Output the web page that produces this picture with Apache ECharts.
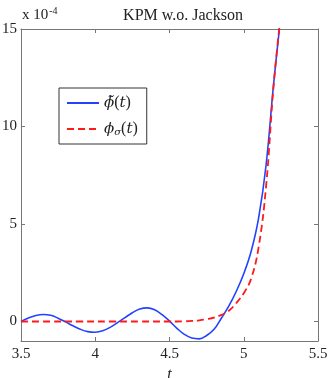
<!DOCTYPE html>
<html>
<head>
<meta charset="utf-8">
<script src="https://cdn.jsdelivr.net/npm/echarts@6/dist/echarts.min.js"></script>
<style>
  html, body { margin: 0; padding: 0; background: #fff; }
  #chart { width: 332px; height: 378px; }
</style>
</head>
<body>
<div id="chart"></div>
<script>
// values are in units of 1e-4
const tBlue = [3.5, 3.55, 3.6, 3.65, 3.7, 3.75, 3.8, 3.85, 3.9, 3.95, 4.0, 4.05, 4.1, 4.15, 4.2, 4.25, 4.3, 4.35, 4.4, 4.45, 4.5, 4.55, 4.6, 4.65, 4.7, 4.75, 4.8, 4.85, 4.9, 4.95, 5.0, 5.05, 5.1, 5.15, 5.2, 5.24];
const phiTilde = [0.0, 0.18, 0.31, 0.36, 0.32, 0.17, -0.02, -0.22, -0.4, -0.52, -0.55, -0.48, -0.3, -0.06, 0.2, 0.45, 0.64, 0.7, 0.6, 0.35, 0.02, -0.35, -0.66, -0.85, -0.89, -0.72, -0.4, 0.18, 0.8, 1.55, 2.45, 3.6, 5.3, 8.0, 12.1, 15.0];
const tRed = [3.5, 3.7, 3.9, 4.1, 4.3, 4.5, 4.55, 4.6, 4.65, 4.7, 4.75, 4.8, 4.85, 4.9, 4.95, 5.0, 5.05, 5.1, 5.15, 5.2, 5.24];
const phiSigma = [0, 0, 0, 0, 0, 0, 0.0, 0.01, 0.03, 0.06, 0.12, 0.2, 0.34, 0.55, 0.95, 1.45, 2.2, 3.8, 6.9, 12.0, 15.1];
const xTicks = [3.5, 4, 4.5, 5, 5.5];
const yTicks = [0, 5, 10, 15];

const zip = (a, b) => a.map((v, i) => [v, b[i]]);
const serif = "'Liberation Serif', 'DejaVu Serif', serif";
const mathFont = "'DejaVu Serif', serif";
const boxColor = '#777';

const chart = echarts.init(document.getElementById('chart'));

const tickStyle = vals => ({ show: true, inside: true, length: 4, customValues: vals, lineStyle: { color: boxColor } });
const lineStyleBox = { show: true, onZero: false, lineStyle: { color: boxColor, width: 1 } };

chart.setOption({
  animation: false,
  backgroundColor: '#fff',
  title: {
    text: 'KPM w.o. Jackson',
    left: 178,
    textAlign: 'center',
    top: 3,
    textStyle: { fontFamily: serif, fontWeight: 'normal', fontSize: 16, color: '#222' }
  },
  grid: { left: 21, right: 14, top: 29, bottom: 37, containLabel: false, outerBoundsMode: 'none' },
  legend: {
    left: 59,
    top: 88,
    orient: 'vertical',
    itemWidth: 32,
    itemHeight: 10,
    itemGap: 10,
    padding: [7, 9, 7, 7],
    borderColor: '#333',
    borderWidth: 1,
    backgroundColor: '#fff',
    itemStyle: { opacity: 0 },
    data: ['tilde', 'sigma'],
    formatter: name => name === 'tilde' ? '{i|ϕ̃}{n|(}{i|t}{n|)}' : '{i|ϕ}{s|σ}{n|(}{i|t}{n|)}',
    textStyle: {
      fontFamily: serif,
      fontSize: 15,
      color: '#222',
      rich: {
        i: { fontFamily: mathFont, fontStyle: 'italic', fontSize: 15, color: '#222' },
        n: { fontFamily: serif, fontSize: 16, color: '#222' },
        s: { fontFamily: mathFont, fontStyle: 'italic', fontSize: 10, color: '#222', verticalAlign: 'bottom', padding: [6, 0, 0, 0] }
      }
    }
  },
  xAxis: [
    {
      type: 'value',
      min: 3.5, max: 5.5, interval: 0.5,
      position: 'bottom',
      splitLine: { show: false },
      axisLine: lineStyleBox,
      name: 't',
      nameLocation: 'middle',
      nameGap: 25,
      nameTextStyle: { fontFamily: serif, fontStyle: 'italic', fontSize: 16, color: '#222' },
      axisLabel: {
        customValues: xTicks,
        fontFamily: serif, fontSize: 15, color: '#222', margin: 6,
        formatter: v => String(v)
      },
      axisTick: tickStyle(xTicks)
    },
    {
      type: 'value',
      min: 3.5, max: 5.5, interval: 0.5,
      position: 'top',
      splitLine: { show: false },
      axisLine: lineStyleBox,
      axisLabel: { show: false },
      axisTick: tickStyle(xTicks)
    }
  ],
  yAxis: [
    {
      type: 'value',
      min: -1, max: 15,
      position: 'left',
      splitLine: { show: false },
      axisLine: lineStyleBox,
      axisLabel: {
        customValues: yTicks,
        fontFamily: serif, fontSize: 15, color: '#222', margin: 4
      },
      axisTick: tickStyle(yTicks)
    },
    {
      type: 'value',
      min: -1, max: 15,
      position: 'right',
      splitLine: { show: false },
      axisLine: lineStyleBox,
      axisLabel: { show: false },
      axisTick: tickStyle(yTicks)
    }
  ],
  graphic: [{
    type: 'text',
    left: 22,
    top: 6,
    style: {
      text: 'x 10{sup|-4}',
      fontFamily: serif,
      fontSize: 15,
      fill: '#222',
      rich: { sup: { fontFamily: serif, fontSize: 10, fill: '#222', verticalAlign: 'top', padding: [0, 0, 8, 1] } }
    }
  }],
  series: [
    {
      name: 'tilde',
      type: 'line',
      data: zip(tBlue, phiTilde),
      smooth: 0.4,
      symbol: 'none',
      clip: true,
      lineStyle: { color: '#2342ff', width: 1.6 },
      itemStyle: { color: '#2342ff' },
      z: 3
    },
    {
      name: 'sigma',
      type: 'line',
      data: zip(tRed, phiSigma),
      smooth: 0.4,
      symbol: 'none',
      clip: true,
      lineStyle: { color: '#ff1a1a', width: 1.8, type: [7, 4] },
      itemStyle: { color: '#ff1a1a' },
      z: 4
    }
  ]
});

window.addEventListener('resize', () => chart.resize());
</script>
</body>
</html>
